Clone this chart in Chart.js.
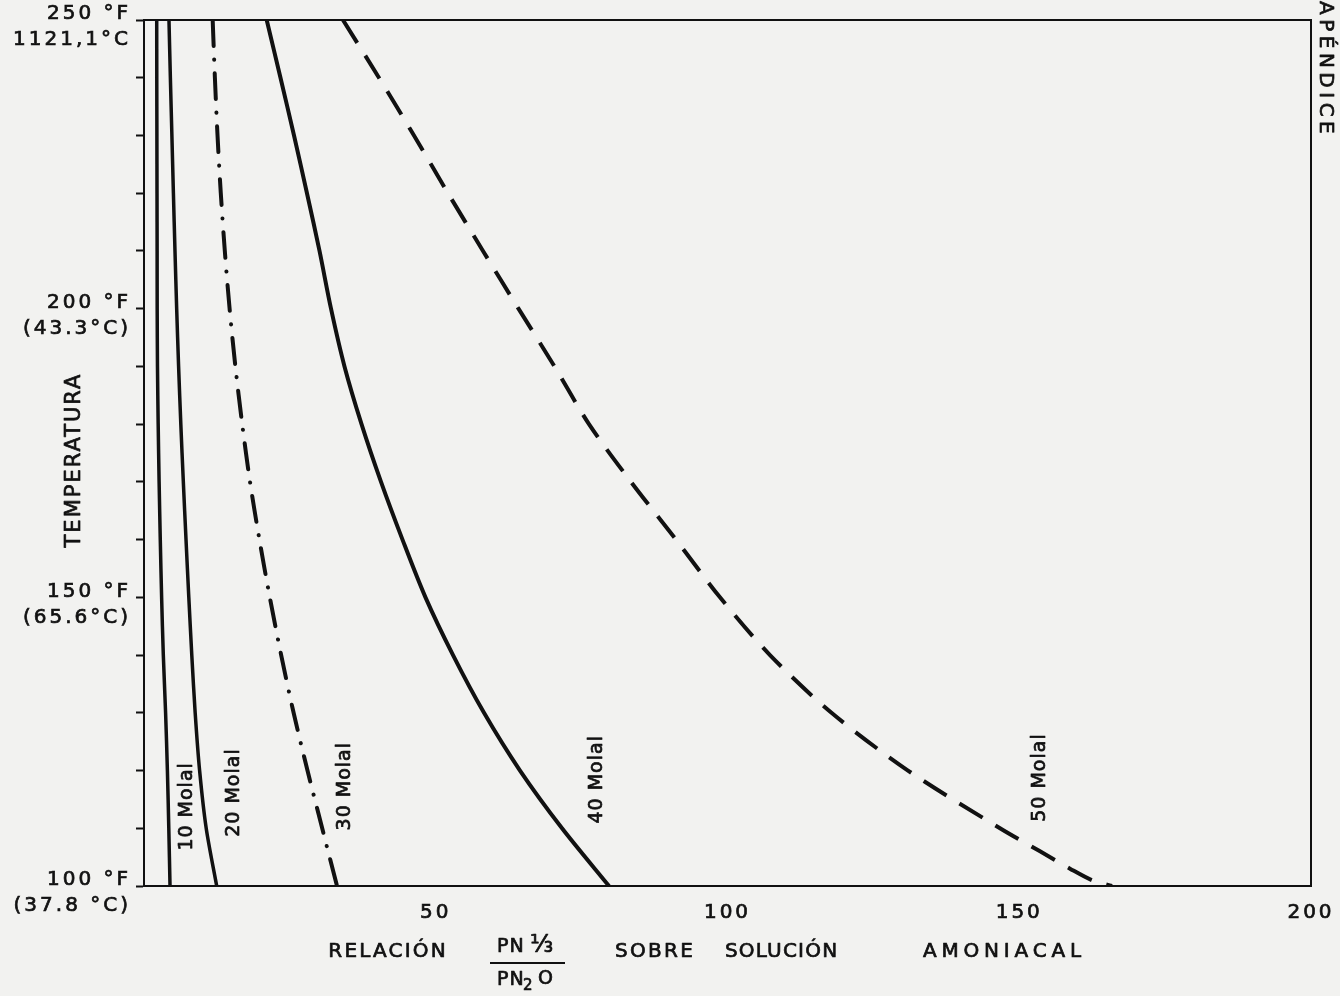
<!DOCTYPE html>
<html>
<head>
<meta charset="utf-8">
<script src="https://cdn.jsdelivr.net/npm/chart.js@4.4.1/dist/chart.umd.min.js"></script>
<style>
  html, body { margin: 0; padding: 0; background: #f2f2f0; }
  canvas { display: block; }
</style>
</head>
<body>
<canvas id="chart" width="1340" height="996"></canvas>
<script>
// ---------------- DATA ----------------
const temperatures = [250, 240, 230, 220, 210, 200, 190, 180, 170, 160, 150, 140, 130, 120, 110, 100];
const molal10 = [2.18, 2.19, 2.21, 2.23, 2.25, 2.26, 2.31, 2.43, 2.59, 2.79, 3.02, 3.31, 3.70, 4.01, 4.25, 4.46];
const molal20 = [4.28, 4.52, 4.78, 5.04, 5.31, 5.60, 5.93, 6.31, 6.74, 7.20, 7.68, 8.19, 8.77, 9.53, 10.66, 12.46];
const molal30 = [11.77, 12.15, 12.60, 13.16, 13.85, 14.67, 15.66, 16.83, 18.17, 19.78, 21.56, 23.51, 25.64, 28.02, 30.54, 33.08];
const molal40 = [21.03, 23.39, 25.71, 27.93, 30.08, 32.05, 34.36, 37.28, 40.62, 44.30, 48.24, 52.96, 58.27, 64.44, 71.64, 79.69];
const temperatures50 = [250, 240, 230, 220, 210, 200, 190, 180, 170, 160, 150, 140, 130, 120, 110, 106, 103, 101, 100];
const molal50 = [34.10, 40.27, 46.27, 52.10, 58.10, 64.18, 70.35, 76.26, 83.46, 91.17, 98.71, 107.28, 117.82, 130.93, 146.70, 153.56, 158.70, 162.47, 165.90];

const seriesNames = ['10 Molal', '20 Molal', '30 Molal', '40 Molal', '50 Molal'];
// label anchors in data units (ratio, °F)
const labelRatio = [7.35, 15.4, 34.45, 77.64, 153.56];
const labelTemp  = [113.7, 116.1, 117.2, 118.4, 118.7];

const xTickValues = [50, 100, 150, 200];
const xTickLabels = ['50', '100', '150', '200'];
const yTickValues = [250, 200, 150, 100];
const yTickLabelsF = ['250 °F', '200 °F', '150 °F', '100 °F'];
const yTickLabelsC = ['1121,1°C', '(43.3°C)', '(65.6°C)', '(37.8 °C)'];

const yTitle = 'TEMPERATURA';
const xTitleWords = ['RELACIÓN', 'SOBRE', 'SOLUCIÓN', 'AMONIACAL'];
const fracNumerator = ['PN', '⅓'];
const fracDenominator = ['PN', '2', 'O'];
const sideNote = 'APÉNDICE';

// ---------------- STYLE ----------------
const INK = '#111111';
const FONT = "'DejaVu Sans', 'Liberation Sans', sans-serif";

function pts(xs, ts) { return xs.map((v, i) => ({ x: v, y: ts[i] })); }

function txt(ctx, s, x, y, size, spacing, align, rot) {
  ctx.save();
  ctx.font = size + 'px ' + FONT;
  ctx.letterSpacing = spacing + 'px';
  ctx.fillStyle = INK;
  ctx.strokeStyle = INK;
  ctx.lineWidth = 0.7;
  ctx.lineJoin = 'round';
  ctx.textAlign = align || 'center';
  ctx.textBaseline = 'middle';
  ctx.translate(x, y);
  if (rot) ctx.rotate(rot);
  const dx = align === 'center' || !align ? spacing / 2 : 0;
  ctx.fillText(s, dx, 0);
  ctx.strokeText(s, dx, 0);
  ctx.restore();
}

const decorations = {
  id: 'decorations',
  beforeDraw(chart) {
    const ctx = chart.ctx;
    ctx.save();
    ctx.fillStyle = '#f2f2f0';
    ctx.fillRect(0, 0, chart.width, chart.height);
    ctx.restore();
    ctx.letterSpacing = '3px';
  },
  afterDraw(chart) {
    const { ctx, chartArea: a, scales } = chart;
    ctx.save();
    ctx.letterSpacing = '0px';
    // frame: top and right edges
    ctx.strokeStyle = INK;
    ctx.lineWidth = 2;
    ctx.beginPath();
    ctx.moveTo(a.left - 1, a.top);
    ctx.lineTo(a.right, a.top);
    ctx.lineTo(a.right, a.bottom);
    ctx.stroke();
    ctx.restore();

    // curve labels
    seriesNames.forEach((name, i) => {
      const px = scales.x.getPixelForValue(labelRatio[i]);
      const py = scales.y.getPixelForValue(labelTemp[i]);
      txt(ctx, name, px, py, 19, 1, 'center', -Math.PI / 2);
    });

    // y axis title
    txt(ctx, yTitle, 75, 461, 21, 2, 'center', -Math.PI / 2);

    // side note
    txt(ctx, sideNote, 1325, 1, 20, 4.5, 'left', Math.PI / 2);

    // x axis title
    const ty = 952;
    txt(ctx, xTitleWords[0], 387, ty, 20, 2.2, 'center');
    txt(ctx, xTitleWords[1], 654, ty, 20, 2.3, 'center');
    txt(ctx, xTitleWords[2], 781, ty, 20, 1.2, 'center');
    txt(ctx, xTitleWords[3], 1002, ty, 20, 4.8, 'center');
    // fraction
    txt(ctx, fracNumerator[0], 497, 947, 19, 1, 'left');
    txt(ctx, fracNumerator[1], 530, 946, 24, 0, 'left');
    ctx.save();
    ctx.strokeStyle = INK; ctx.lineWidth = 2;
    ctx.beginPath(); ctx.moveTo(490, 963); ctx.lineTo(565, 963); ctx.stroke();
    ctx.restore();
    txt(ctx, fracDenominator[0], 497, 980, 19, 1, 'left');
    txt(ctx, fracDenominator[1], 523, 986, 15, 0, 'left');
    txt(ctx, fracDenominator[2], 538, 979, 19, 0, 'left');
  }
};

const ctx = document.getElementById('chart').getContext('2d');
new Chart(ctx, {
  type: 'scatter',
  data: {
    datasets: [
      { label: seriesNames[0], data: pts(molal10, temperatures), borderWidth: 3.5 },
      { label: seriesNames[1], data: pts(molal20, temperatures), borderWidth: 3.5 },
      { label: seriesNames[2], data: pts(molal30, temperatures), borderWidth: 4,
        borderDash: [26, 13.5, 0.1, 13.5], borderCapStyle: 'round' },
      { label: seriesNames[3], data: pts(molal40, temperatures), borderWidth: 4 },
      { label: seriesNames[4], data: pts(molal50, temperatures50), borderWidth: 4,
        borderDash: [27, 15] }
    ].map(d => Object.assign({
      showLine: true, pointRadius: 0, borderColor: INK, backgroundColor: INK,
      tension: 0.3, fill: false
    }, d))
  },
  plugins: [decorations],
  options: {
    responsive: false,
    animation: false,
    devicePixelRatio: 1,
    layout: { padding: { top: 20, right: 29, bottom: 0, left: 0 } },
    plugins: { legend: { display: false }, tooltip: { enabled: false } },
    scales: {
      x: {
        type: 'linear', min: 0, max: 200,
        afterFit(s) { s.height = 110; s.paddingLeft = 0; s.paddingRight = 0; },
        afterBuildTicks(s) { s.ticks = [0].concat(xTickValues).map(v => ({ value: v })); },
        grid: { display: false, drawTicks: false },
        border: { display: true, color: INK, width: 2 },
        ticks: {
          color: INK, padding: 15, maxRotation: 0,
          textStrokeColor: INK, textStrokeWidth: 0.7,
          font: { family: FONT, size: 20 },
          callback(v) { const i = xTickValues.indexOf(v); return i >= 0 ? xTickLabels[i] : ''; }
        }
      },
      y: {
        type: 'linear', min: 100, max: 250,
        afterFit(s) { s.width = 144; s.paddingTop = 0; s.paddingBottom = 0; },
        grid: { display: true, drawOnChartArea: false, drawTicks: true, tickLength: 8, tickWidth: 2, color: INK },
        border: { display: true, color: INK, width: 2 },
        ticks: {
          stepSize: 10, color: INK, padding: 5, labelOffset: 7,
          textStrokeColor: INK, textStrokeWidth: 0.7,
          font: { family: FONT, size: 20, lineHeight: 1.3 },
          callback(v) { const i = yTickValues.indexOf(v); return i >= 0 ? [yTickLabelsF[i], yTickLabelsC[i]] : ''; }
        }
      }
    }
  }
});
</script>
</body>
</html>
